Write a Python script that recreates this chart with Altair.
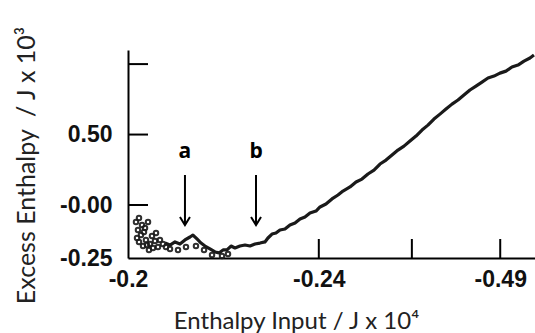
import altair as alt
import pandas as pd

# ---- data (in axis units) ----
# main trace
trace_x = [0.394, 0.447, 0.500, 0.553, 0.606, 0.660, 0.691, 0.734, 0.777, 0.819,
           0.872, 0.926, 0.968, 1.011, 1.053, 1.096, 1.138, 1.191, 1.245, 1.298,
           1.351, 1.404, 1.457, 1.489, 1.532, 1.574, 1.617, 1.670, 1.723, 1.777,
           1.830, 1.883, 1.936, 2.000, 2.043, 2.106, 2.170, 2.234, 2.287, 2.362,
           2.426, 2.489, 2.553, 2.617, 2.681, 2.745, 2.809, 2.872, 2.936, 3.000,
           3.064, 3.128, 3.191, 3.255, 3.319, 3.383, 3.447, 3.511, 3.574, 3.638,
           3.702, 3.766, 3.830, 3.894, 3.957, 4.021, 4.085, 4.149, 4.213, 4.277,
           4.319]
trace_y = [-0.270, -0.284, -0.262, -0.277, -0.248, -0.227, -0.213, -0.241, -0.270, -0.291,
           -0.312, -0.333, -0.340, -0.319, -0.319, -0.291, -0.305, -0.291, -0.284, -0.291,
           -0.277, -0.270, -0.262, -0.234, -0.206, -0.199, -0.177, -0.170, -0.142, -0.128,
           -0.099, -0.085, -0.057, -0.043, -0.014, 0.007, 0.043, 0.071, 0.099, 0.128,
           0.163, 0.184, 0.220, 0.248, 0.291, 0.319, 0.355, 0.390, 0.418, 0.454,
           0.489, 0.532, 0.567, 0.610, 0.645, 0.681, 0.716, 0.745, 0.780, 0.816,
           0.844, 0.872, 0.901, 0.915, 0.936, 0.950, 0.979, 0.993, 1.021, 1.043,
           1.064]
# scattered points (start-up cloud and lower trace)
cloud_x = [0.085, 0.117, 0.149, 0.106, 0.138, 0.181, 0.213, 0.191, 0.117, 0.160,
           0.234, 0.255, 0.287, 0.319, 0.223, 0.298, 0.340, 0.372, 0.170, 0.096,
           0.266, 0.202, 0.447, 0.532, 0.617, 0.809, 0.894, 1.000, 1.064, 0.404,
           0.723]
cloud_y = [-0.121, -0.092, -0.142, -0.177, -0.213, -0.163, -0.121, -0.248, -0.262, -0.291,
           -0.277, -0.220, -0.255, -0.298, -0.319, -0.199, -0.248, -0.277, -0.191, -0.234,
           -0.305, -0.284, -0.312, -0.319, -0.298, -0.319, -0.355, -0.362, -0.348, -0.298,
           -0.291]

# annotations
arrow_labels = ["a", "b"]
arrow_x = [0.606, 1.362]
arrow_top = [0.213, 0.213]
arrow_tip = [-0.142, -0.142]
letter_y = [0.333, 0.333]

# axes
x_domain = [0, 4.33]
y_domain = [-0.376, 1.10]
x_tick_values = [2.03, 3.02, 3.96]
x_label_values = [0, 2.03, 3.96]
x_label_texts = ["-0.2", "-0.24", "-0.49"]
y_tick_values = [0.0, 0.5, 1.0]
y_label_values = [-0.376, 0.0, 0.5]
y_label_texts = ["-0.25", "-0.00", "0.50"]


def label_expr(values, texts):
    s = ""
    for v, t in zip(values, texts):
        s += f"abs(datum.value - ({v})) < 1e-6 ? '{t}' : "
    return s + "''"


W, H = 407, 208
ink = "#1a1a1a"

trace = pd.DataFrame({"x": trace_x, "y": trace_y})
cloud = pd.DataFrame({"x": cloud_x, "y": cloud_y})
arrows = pd.DataFrame({"label": arrow_labels, "x": arrow_x, "top": arrow_top,
                       "tip": arrow_tip, "ly": letter_y})
xt = pd.DataFrame({"x": x_tick_values})
yt = pd.DataFrame({"y": y_tick_values})

xscale = alt.Scale(domain=x_domain, nice=False, zero=False)
yscale = alt.Scale(domain=y_domain, nice=False, zero=False)

label_font = "Liberation Sans"
title_font = "Lato"

x_axis = alt.Axis(
    values=x_label_values, labelExpr=label_expr(x_label_values, x_label_texts),
    ticks=False, tickSize=0, grid=False, domainColor="black", domainWidth=2,
    labelFont=label_font, labelFontSize=23, labelFontWeight="bold", labelColor="#111",
    labelPadding=10, labelFlush=False, labelOverlap=False,
    title="Enthalpy Input / J x 10⁴", titleFont=title_font, titleFontSize=24,
    titleFontWeight="normal", titleColor="#222", titleX=168, titleY=63,
    titleAlign="center", titleBaseline="middle",
)
y_axis = alt.Axis(
    values=y_label_values, labelExpr=label_expr(y_label_values, y_label_texts),
    ticks=False, tickSize=0, grid=False, domainColor="black", domainWidth=2,
    labelFont=label_font, labelFontSize=23, labelFontWeight="bold", labelColor="#111",
    labelPadding=16, labelFlush=False, labelOverlap=False,
    title="Excess Enthalpy\u00a0 / J x 10³", titleFont=title_font, titleFontSize=25,
    titleFontWeight="normal", titleColor="#222", titleX=-102, titleY=115,
    titleAngle=270, titleAlign="center", titleBaseline="middle",
)

line = alt.Chart(trace).mark_line(color=ink, strokeWidth=3.2, strokeJoin="round").encode(
    x=alt.X("x:Q", scale=xscale, axis=x_axis),
    y=alt.Y("y:Q", scale=yscale, axis=y_axis),
)
dots = alt.Chart(cloud).mark_point(color=ink, size=20, strokeWidth=2, filled=False, opacity=0.9).encode(
    x=alt.X("x:Q", scale=xscale), y=alt.Y("y:Q", scale=yscale)
)
xticks = alt.Chart(xt).mark_rule(color="black", strokeWidth=2).encode(
    x=alt.X("x:Q", scale=xscale), y=alt.value(H), y2=alt.value(H - 19)
)
yticks = alt.Chart(yt).mark_rule(color="black", strokeWidth=2).encode(
    y=alt.Y("y:Q", scale=yscale), x=alt.value(0), x2=alt.value(20)
)
shafts = alt.Chart(arrows).mark_rule(color="black", strokeWidth=2).encode(
    x=alt.X("x:Q", scale=xscale), y=alt.Y("top:Q", scale=yscale), y2="tip:Q"
)
heads = alt.Chart(arrows).mark_point(
    shape="M-1,-1.6L0,0L1,-1.6", size=100, filled=False, color="black", strokeWidth=2, opacity=1
).encode(x=alt.X("x:Q", scale=xscale), y=alt.Y("tip:Q", scale=yscale))
letters = alt.Chart(arrows).mark_text(
    font="Open Sans", fontSize=21, fontWeight="bold", color="black", baseline="alphabetic"
).encode(x=alt.X("x:Q", scale=xscale), y=alt.Y("ly:Q", scale=yscale), text="label:N")

chart = (
    alt.layer(line, dots, xticks, yticks, shafts, heads, letters)
    .properties(
        width=W, height=H,
        autosize=alt.AutoSizeParams(type="none"),
        padding={"left": 128, "top": 50, "right": 0, "bottom": 75},
        background="white",
    )
    .configure_view(stroke=None)
)

chart.save("out.html", embed_options={"renderer": "svg", "actions": False})
